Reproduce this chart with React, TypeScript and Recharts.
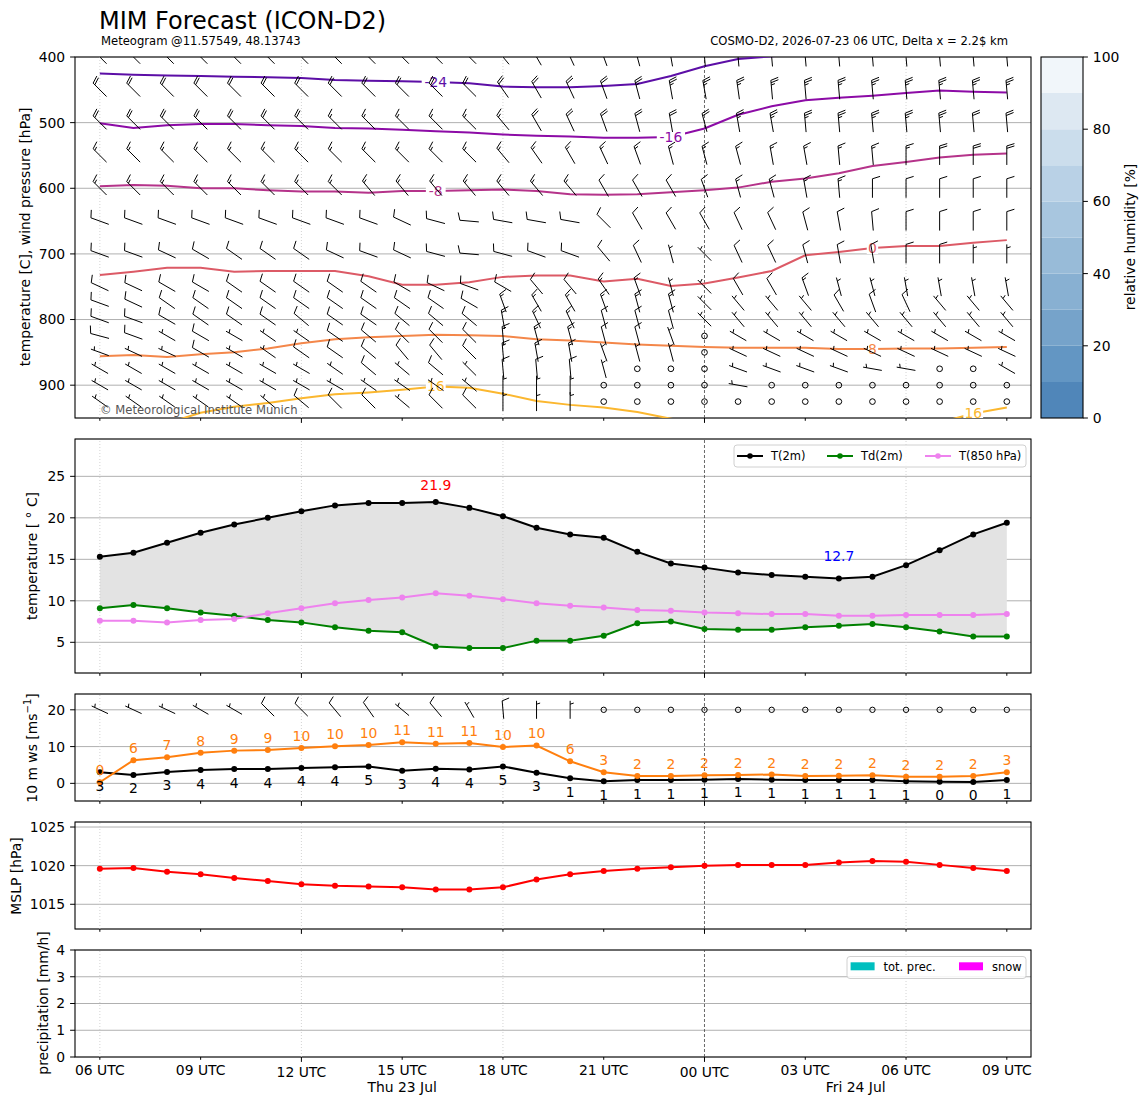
import React from 'react';
import {
  Bar,
  BarChart,
  CartesianGrid,
  ComposedChart,
  Area,
  Line,
  ReferenceArea,
  ReferenceLine,
  Scatter,
  XAxis,
  YAxis,
} from 'recharts';

const FONT = '"DejaVu Sans", sans-serif';

// forecast hours since Thu 23 Jul 06 UTC
const HOURS = [0, 1, 2, 3, 4, 5, 6, 7, 8, 9, 10, 11, 12, 13, 14, 15, 16, 17, 18, 19, 20, 21, 22, 23, 24, 25, 26, 27];
const TICK_HOURS = [0, 3, 6, 9, 12, 15, 18, 21, 24, 27];
const TICK_LABELS = ['06 UTC', '09 UTC', '12 UTC', '15 UTC', '18 UTC', '21 UTC', '00 UTC', '03 UTC', '06 UTC', '09 UTC'];
const DAY_LABELS = [
  { hour: 9, text: 'Thu 23 Jul' },
  { hour: 22.5, text: 'Fri 24 Jul' },
];
const X_DOMAIN: [number, number] = [-0.74, 27.72];

// isotherms: pressure (hPa) where the contour sits at each hour
const ISO_M24 = [425, 427, 428, 429, 430, 431, 432, 435, 436, 437, 438, 440, 445, 446, 446, 444, 441, 429, 414, 403, 399, 394, 390, 387, 385, 384, 384, 385];
const ISO_M16 = [501, 508, 504, 502, 502, 504, 505, 508, 509, 511, 513, 515, 518, 520, 521, 523, 523, 522, 509, 488, 475, 466, 462, 459, 455, 451, 453, 454];
const ISO_M8 = [597, 595, 596, 600, 600, 603, 605, 605, 607, 604, 604, 603, 602, 604, 609, 610, 609, 606, 603, 599, 590, 585, 577, 566, 560, 553, 549, 547];
const ISO_0 = [732, 727, 721, 721, 727, 726, 726, 726, 734, 747, 747, 743, 735, 733, 733, 742, 738, 749, 745, 736, 726, 702, 697, 691, 688, 688, 683, 679];
const ISO_8 = [856, 854, 857, 853, 850, 844, 836, 830, 827, 825, 823, 824, 825, 830, 832, 835, 838, 840, 842, 843, 843, 843, 845, 845, 844, 844, 843, 842];
const ISO_16 = [962, 957, 958, 942, 933, 927, 920, 914, 911, 907, 902, 904, 913, 924, 930, 934, 941, 951, 960, 965, 968, 970, 970, 968, 965, 957, 943, 934];

const ISOTHERMS = [
  { key: 'm24', values: ISO_M24, text: '-24', color: '#5c0ea6', labelAt: [10] },
  { key: 'm16', values: ISO_M16, text: '-16', color: '#8c0ba6', labelAt: [17] },
  { key: 'm8', values: ISO_M8, text: '-8', color: '#b5338a', labelAt: [10] },
  { key: 'z0', values: ISO_0, text: '0', color: '#dc5a66', labelAt: [23] },
  { key: 'p8', values: ISO_8, text: '8', color: '#f4874a', labelAt: [23] },
  { key: 'p16', values: ISO_16, text: '16', color: '#fbb72f', labelAt: [10, 26] },
];

// wind barbs on pressure levels: direction (deg, from) and speed (kn)
const DIR_400 = [315, 315, 315, 315, 315, 315, 315, 315, 315, 315, 315, 315, 320, 330, 335, 340, 345, 350, 355, 355, 355, 355, 355, 355, 355, 355, 355, 355];
const SPD_400 = [25, 25, 25, 25, 25, 25, 25, 25, 25, 25, 25, 25, 25, 25, 25, 25, 25, 25, 25, 25, 25, 25, 25, 25, 25, 25, 25, 25];
const DIR_450 = [315, 315, 315, 315, 315, 315, 315, 315, 315, 315, 315, 315, 325, 330, 335, 340, 345, 350, 350, 352, 355, 355, 355, 355, 355, 355, 355, 355];
const SPD_450 = [20, 20, 20, 20, 20, 20, 20, 20, 20, 20, 20, 20, 20, 20, 20, 20, 25, 25, 25, 25, 25, 25, 25, 25, 25, 25, 25, 25];
const DIR_500 = [315, 315, 315, 315, 315, 315, 315, 315, 315, 315, 315, 315, 320, 330, 335, 340, 345, 350, 345, 350, 350, 355, 355, 355, 355, 355, 355, 355];
const SPD_500 = [20, 20, 20, 20, 20, 20, 20, 15, 15, 15, 15, 15, 15, 20, 20, 20, 20, 20, 20, 25, 25, 25, 25, 25, 25, 25, 20, 20];
const DIR_550 = [315, 315, 315, 315, 315, 315, 315, 315, 315, 315, 315, 315, 320, 325, 330, 335, 340, 345, 345, 345, 350, 350, 355, 355, 360, 360, 360, 360];
const SPD_550 = [15, 15, 15, 15, 15, 15, 15, 15, 15, 15, 15, 15, 15, 15, 15, 15, 15, 15, 15, 15, 15, 15, 15, 15, 15, 20, 20, 20];
const DIR_600 = [315, 315, 315, 315, 315, 315, 315, 315, 320, 320, 320, 320, 320, 320, 320, 330, 330, 330, 340, 345, 345, 350, 355, 360, 360, 360, 360, 360];
const SPD_600 = [15, 15, 15, 15, 15, 15, 15, 15, 15, 15, 15, 15, 15, 15, 15, 10, 10, 10, 10, 15, 15, 15, 15, 10, 10, 10, 10, 10];
const DIR_650 = [290, 290, 290, 290, 290, 290, 290, 290, 290, 295, 285, 275, 280, 280, 280, 315, 330, 330, 330, 335, 335, 345, 350, 355, 360, 360, 360, 360];
const SPD_650 = [10, 10, 10, 10, 10, 10, 10, 10, 10, 10, 10, 10, 10, 10, 10, 10, 10, 10, 10, 10, 10, 10, 10, 10, 10, 10, 10, 10];
const DIR_700 = [290, 290, 295, 300, 305, 305, 305, 295, 290, 295, 285, 275, 285, 290, 290, 320, 335, 345, 315, 335, 335, 345, 350, 350, 360, 360, 360, 360];
const SPD_700 = [10, 10, 10, 10, 10, 10, 10, 10, 10, 10, 10, 10, 10, 10, 10, 10, 10, 5, 5, 10, 10, 10, 10, 10, 10, 10, 5, 5];
const DIR_750 = [295, 295, 300, 300, 305, 305, 305, 305, 305, 300, 295, 290, 300, 320, 320, 325, 340, 345, 315, 330, 330, 340, 345, 345, 350, 350, 350, 350];
const SPD_750 = [10, 10, 10, 10, 10, 10, 10, 10, 10, 10, 10, 10, 10, 10, 10, 15, 15, 5, 5, 10, 10, 15, 5, 5, 5, 5, 5, 5];
const DIR_775 = [290, 295, 305, 305, 305, 305, 305, 305, 305, 305, 305, 300, 340, 330, 330, 340, 345, 345, 315, 320, 320, 320, 330, 340, 335, 320, 320, 320];
const SPD_775 = [10, 10, 10, 10, 10, 10, 10, 10, 10, 10, 10, 10, 15, 15, 15, 15, 15, 15, 5, 5, 5, 5, 10, 10, 10, 5, 5, 5];
const DIR_800 = [290, 290, 300, 305, 305, 305, 310, 305, 305, 310, 310, 310, 350, 335, 335, 345, 345, 345, 315, 320, 320, 320, 320, 320, 320, 320, 320, 320];
const SPD_800 = [10, 10, 10, 10, 10, 10, 10, 10, 10, 10, 10, 10, 15, 15, 15, 10, 10, 10, 5, 5, 5, 5, 5, 5, 5, 5, 5, 5];
const DIR_825 = [285, 290, 300, 300, 300, 305, 305, 305, 310, 315, 315, 315, 355, 345, 345, 345, 345, 340, 0, 300, 300, 300, 300, 300, 300, 300, 300, 300];
const SPD_825 = [10, 10, 5, 10, 5, 5, 5, 10, 10, 10, 10, 10, 15, 15, 15, 10, 10, 5, 0, 5, 5, 5, 5, 5, 5, 5, 5, 5];
const DIR_850 = [290, 295, 295, 300, 300, 305, 305, 305, 310, 320, 320, 315, 355, 350, 350, 340, 345, 345, 0, 295, 295, 295, 295, 295, 295, 295, 295, 295];
const SPD_850 = [5, 5, 5, 10, 5, 5, 10, 10, 10, 10, 10, 10, 15, 15, 15, 5, 5, 5, 0, 5, 5, 5, 5, 5, 5, 5, 5, 5];
const DIR_875 = [300, 300, 300, 300, 300, 300, 300, 305, 310, 310, 310, 315, 355, 355, 355, 345, 0, 0, 0, 290, 290, 290, 290, 280, 280, 0, 0, 300];
const SPD_875 = [5, 5, 5, 5, 5, 5, 5, 5, 10, 5, 10, 5, 10, 10, 10, 5, 0, 0, 0, 5, 5, 5, 5, 5, 5, 0, 0, 5];
const DIR_900 = [300, 300, 300, 300, 300, 300, 300, 300, 305, 305, 305, 310, 360, 360, 360, 0, 0, 0, 0, 280, 0, 0, 0, 0, 0, 0, 0, 0];
const SPD_900 = [5, 5, 5, 5, 5, 5, 5, 5, 5, 5, 5, 5, 5, 5, 5, 0, 0, 0, 0, 5, 0, 0, 0, 0, 0, 0, 0, 0];
const DIR_925 = [305, 305, 305, 305, 305, 310, 310, 315, 315, 310, 315, 315, 360, 360, 360, 0, 0, 0, 0, 0, 0, 0, 0, 0, 0, 0, 0, 0];
const SPD_925 = [5, 5, 5, 5, 5, 5, 10, 10, 10, 5, 10, 10, 5, 5, 5, 0, 0, 0, 0, 0, 0, 0, 0, 0, 0, 0, 0, 0];

const BARB_LEVELS = [
  { p: 400, dir: DIR_400, spd: SPD_400 },
  { p: 450, dir: DIR_450, spd: SPD_450 },
  { p: 500, dir: DIR_500, spd: SPD_500 },
  { p: 550, dir: DIR_550, spd: SPD_550 },
  { p: 600, dir: DIR_600, spd: SPD_600 },
  { p: 650, dir: DIR_650, spd: SPD_650 },
  { p: 700, dir: DIR_700, spd: SPD_700 },
  { p: 750, dir: DIR_750, spd: SPD_750 },
  { p: 775, dir: DIR_775, spd: SPD_775 },
  { p: 800, dir: DIR_800, spd: SPD_800 },
  { p: 825, dir: DIR_825, spd: SPD_825 },
  { p: 850, dir: DIR_850, spd: SPD_850 },
  { p: 875, dir: DIR_875, spd: SPD_875 },
  { p: 900, dir: DIR_900, spd: SPD_900 },
  { p: 925, dir: DIR_925, spd: SPD_925 },
];

// 2 m temperatures (°C)
const T2M = [15.3, 15.8, 17.0, 18.2, 19.2, 20.0, 20.8, 21.5, 21.8, 21.8, 21.9, 21.2, 20.2, 18.8, 18.0, 17.6, 15.9, 14.5, 14.0, 13.4, 13.1, 12.9, 12.7, 12.9, 14.3, 16.1, 18.0, 19.4];
const TD2M = [9.1, 9.5, 9.1, 8.6, 8.2, 7.7, 7.4, 6.8, 6.4, 6.2, 4.5, 4.3, 4.3, 5.2, 5.2, 5.8, 7.3, 7.5, 6.6, 6.5, 6.5, 6.8, 7.0, 7.2, 6.8, 6.3, 5.7, 5.7];
const T850 = [7.6, 7.6, 7.4, 7.7, 7.8, 8.5, 9.1, 9.7, 10.1, 10.4, 10.9, 10.6, 10.2, 9.7, 9.4, 9.2, 8.9, 8.8, 8.6, 8.5, 8.4, 8.4, 8.2, 8.2, 8.3, 8.3, 8.3, 8.4];

// 10 m wind (m/s), gusts (m/s), barb direction and speed (kn)
const WS10 = [3.0, 2.3, 3.1, 3.6, 3.9, 3.9, 4.2, 4.4, 4.6, 3.4, 4.0, 3.8, 4.6, 2.9, 1.4, 0.6, 0.9, 0.9, 1.0, 1.2, 1.0, 0.9, 0.9, 0.9, 0.6, 0.45, 0.4, 0.9];
const GUST10 = [0.3, 6.3, 7.1, 8.3, 8.9, 9.1, 9.6, 10.1, 10.4, 11.2, 10.8, 11.0, 9.9, 10.3, 6.0, 3.0, 2.0, 2.0, 2.2, 2.3, 2.4, 2.0, 2.1, 2.2, 1.8, 1.8, 2.0, 3.0];
const DIR10 = [295, 295, 295, 300, 300, 315, 315, 320, 325, 310, 320, 330, 355, 360, 360, 0, 0, 0, 0, 0, 0, 0, 0, 0, 0, 0, 0, 0];
const SPD10 = [5, 5, 5, 5, 5, 10, 10, 10, 10, 5, 10, 5, 10, 5, 5, 0, 0, 0, 0, 0, 0, 0, 0, 0, 0, 0, 0, 0];

// mean sea level pressure (hPa)
const MSLP = [1019.6, 1019.7, 1019.2, 1018.9, 1018.4, 1018.0, 1017.6, 1017.4, 1017.3, 1017.2, 1016.9, 1016.9, 1017.2, 1018.2, 1018.9, 1019.3, 1019.6, 1019.8, 1020.0, 1020.1, 1020.1, 1020.1, 1020.4, 1020.6, 1020.5, 1020.1, 1019.7, 1019.3];

// precipitation (mm/h)
const TOT_PREC = [0, 0, 0, 0, 0, 0, 0, 0, 0, 0, 0, 0, 0, 0, 0, 0, 0, 0, 0, 0, 0, 0, 0, 0, 0, 0, 0, 0];
const SNOW = [0, 0, 0, 0, 0, 0, 0, 0, 0, 0, 0, 0, 0, 0, 0, 0, 0, 0, 0, 0, 0, 0, 0, 0, 0, 0, 0, 0];

// relative humidity colour bar
const RH_LEVELS = [0, 10, 20, 30, 40, 50, 60, 70, 80, 90];
const RH_COLORS = ['#5086b9', '#6396c3', '#76a3ca', '#88b0d2', '#98bbd8', '#a8c6df', '#b9d1e6', '#cbddec', '#dde8f2', '#f1f6fa'];

// ---- derived tables ----
const ISO_ROWS = HOURS.map((t, i) => {
  const row: Record<string, number> = { t };
  ISOTHERMS.forEach((iso) => {
    row[iso.key] = iso.values[i];
  });
  return row;
});
const ISO_LABELS = ISOTHERMS.flatMap((iso) =>
  iso.labelAt.map((i) => ({ t: HOURS[i], p: iso.values[i], text: iso.text, color: iso.color })),
);
const BARBS = BARB_LEVELS.flatMap((l) => HOURS.map((t, i) => ({ t, p: l.p, dir: l.dir[i], spd: l.spd[i] })));

const TEMP_ROWS = HOURS.map((t, i) => ({ t, t2m: T2M[i], td: TD2M[i], t850: T850[i], range: [TD2M[i], T2M[i]] }));
const iMax = T2M.indexOf(Math.max(...T2M));
const iMin = T2M.indexOf(Math.min(...T2M));
const TEMP_EXTREMES = [
  { t: HOURS[iMax], v: T2M[iMax], text: T2M[iMax].toFixed(1), color: '#ff0000', dy: -12 },
  { t: HOURS[iMin], v: T2M[iMin], text: T2M[iMin].toFixed(1), color: '#0000ff', dy: -17 },
];

const WIND_ROWS = HOURS.map((t, i) => ({ t, ws: WS10[i], gust: GUST10[i] }));
const WS_LABELS = HOURS.map((t, i) => ({ t, v: WS10[i], text: String(Math.round(WS10[i])), color: '#000', dy: 18.5 }));
const GUST_LABELS = HOURS.map((t, i) => ({ t, v: GUST10[i], text: String(Math.round(GUST10[i])), color: '#ff7f0e', dy: -7 }));
const BARBS10 = HOURS.map((t, i) => ({ t, y: 20, dir: DIR10[i], spd: SPD10[i] }));

const MSLP_ROWS = HOURS.map((t, i) => ({ t, mslp: MSLP[i] }));
const PREC_ROWS = HOURS.map((t, i) => ({ t, tot: TOT_PREC[i], snow: SNOW[i] }));
const RH_ROW = [Object.fromEntries([['n', 'rh'], ...RH_LEVELS.map((l, i) => [`b${i}`, (RH_LEVELS[i + 1] ?? 100) - l])])];

// ---- geometry ----
const W = 1148;
const PLOT_L = 75;
const PLOT_R = 1031;
const PAD_TOP = 10;
const X_AXIS_H = 30;
const MARGIN = { top: PAD_TOP, right: W - PLOT_R, bottom: 0, left: 15 };
const PANELS = {
  air: [57, 418],
  temp: [439, 673],
  wind: [694, 801],
  mslp: [822, 929],
  prec: [950, 1057],
};
const xOf = (h: number) => PLOT_L + ((h - X_DOMAIN[0]) / (X_DOMAIN[1] - X_DOMAIN[0])) * (PLOT_R - PLOT_L);

// ---- shapes ----
function drawBarb(L: number) {
  return (props: any) => {
    const { cx, cy, payload } = props;
    const mag = 5 * Math.floor(payload.spd / 5 + 0.5);
    if (mag === 0) {
      return <circle cx={cx} cy={cy} r={0.15 * L} fill="none" stroke="#000" strokeWidth={1} />;
    }
    const th = (payload.dir * Math.PI) / 180;
    const dx = Math.sin(th);
    const dy = -Math.cos(th);
    const rx = -dy;
    const ry = dx;
    const bx = cx - (dx * L) / 2;
    const by = cy - (dy * L) / 2;
    const P = (a: number, s: number) => `${(bx + dx * a + rx * s).toFixed(2)},${(by + dy * a + ry * s).toFixed(2)}`;
    const h = 0.4 * L;
    const w = 0.25 * L;
    const sp = 0.125 * L;
    const nflag = Math.floor(mag / 50);
    const nbarb = Math.floor((mag % 50) / 10);
    const half = mag % 10 >= 5;
    let d = `M${P(0, 0)} L${P(L, 0)}`;
    let off = L;
    for (let k = 0; k < nflag; k++) {
      if (off !== L) off += sp / 2;
      d += ` M${P(off, 0)} L${P(off - w / 2, h)} L${P(off - w, 0)} Z`;
      off -= w + sp;
    }
    for (let k = 0; k < nbarb; k++) {
      d += ` M${P(off, 0)} L${P(off + w / 2, h)}`;
      off -= sp;
    }
    if (half) {
      if (off === L) off -= 1.5 * sp;
      d += ` M${P(off, 0)} L${P(off + w / 4, h / 2)}`;
    }
    return <path d={d} fill={nflag ? '#000' : 'none'} stroke="#000" strokeWidth={1} />;
  };
}

const isoLabel = (props: any) => {
  const { cx, cy, payload } = props;
  const w = payload.text.length * 8.4 + 3;
  return (
    <g>
      <rect x={cx - w / 2} y={cy - 6} width={w} height={12} fill="#fff" />
      <text x={cx} y={cy + 5} textAnchor="middle" fontSize={13.9} fontFamily={FONT} fill={payload.color}>
        {payload.text}
      </text>
    </g>
  );
};

const valueLabel = (props: any) => {
  const { cx, cy, payload } = props;
  return (
    <text x={cx} y={cy + payload.dy} textAnchor="middle" fontSize={13.9} fontFamily={FONT} fill={payload.color}>
      {payload.text}
    </text>
  );
};

function xTick(withLabels: boolean) {
  return (props: any) => {
    const { x, y, payload } = props;
    const v = payload.value;
    const major = v % 12 === 6;
    const len = major ? 4.9 : 2.8;
    const idx = TICK_HOURS.indexOf(v);
    return (
      <g>
        <line x1={x} x2={x} y1={y} y2={y + len} stroke="#000" strokeWidth={1} />
        {withLabels && (
          <text x={x} y={y + len + 15} textAnchor="middle" fontSize={13.9} fontFamily={FONT} fill="#000">
            {TICK_LABELS[idx]}
          </text>
        )}
      </g>
    );
  };
}

const yTick = { fontSize: 13.9, fill: '#000', fontFamily: FONT };

function xAxis(withLabels = false) {
  return (
    <XAxis
      key="x"
      dataKey="t"
      type="number"
      domain={X_DOMAIN}
      ticks={TICK_HOURS}
      interval={0}
      allowDataOverflow
      tickSize={0}
      tickMargin={0}
      tickLine={false}
      axisLine={false}
      height={X_AXIS_H}
      tick={xTick(withLabels)}
    />
  );
}

function yAxis(domain: [number, number], ticks: number[], reversed = false) {
  return (
    <YAxis
      key="y"
      type="number"
      domain={domain}
      ticks={ticks}
      interval={0}
      reversed={reversed}
      allowDataOverflow
      width={60}
      tickSize={4.9}
      tickMargin={4.9}
      axisLine={false}
      tickLine={{ stroke: '#000', strokeWidth: 1 }}
      tick={yTick}
    />
  );
}

function timeLines() {
  return [
    ...[0, 6, 12, 24].map((h) => (
      <ReferenceLine key={`v${h}`} x={h} stroke="#c8c8c8" strokeWidth={0.8} strokeDasharray="1 2" />
    )),
    <ReferenceLine key="v18" x={18} stroke="#444" strokeWidth={0.8} strokeDasharray="3 2" />,
  ];
}

function frame(y1: number, y2: number) {
  return (
    <ReferenceArea
      key="frame"
      x1={X_DOMAIN[0]}
      x2={X_DOMAIN[1]}
      y1={y1}
      y2={y2}
      fill="none"
      fillOpacity={0}
      stroke="#000"
      strokeWidth={1.1}
      ifOverflow="visible"
    />
  );
}

function boxStyle(panel: number[]): React.CSSProperties {
  return { position: 'absolute', left: 0, top: panel[0] - PAD_TOP };
}
const chartH = (panel: number[]) => panel[1] - panel[0] + PAD_TOP + X_AXIS_H;

function Overlay() {
  const txt = { fontFamily: FONT, fill: '#000' };
  const vLabel = (x: number, y: number, content: React.ReactNode) => (
    <text x={x} y={y} transform={`rotate(-90 ${x} ${y})`} textAnchor="middle" dominantBaseline="central" fontSize={13.9} {...txt}>
      {content}
    </text>
  );
  return (
    <svg width={W} height={1105} style={{ position: 'absolute', left: 0, top: 0, pointerEvents: 'none' }}>
      <text x={99} y={29} fontSize={24} {...txt}>MIM Forecast (ICON-D2)</text>
      <text x={101} y={45} fontSize={11.6} {...txt}>Meteogram @11.57549, 48.13743</text>
      <text x={1008} y={45} fontSize={11.6} textAnchor="end" {...txt}>COSMO-D2, 2026-07-23 06 UTC, Delta x = 2.2$ km</text>
      <text x={100} y={414} fontSize={11.6} fontFamily={FONT} fill="#555">© Meteorological Institute Munich</text>

      {vLabel(25, 237, 'temperature [C], wind pressure [hPa]')}
      {vLabel(32, 556, 'temperature [ ° C]')}
      {vLabel(32, 748, (
        <>
          10 m ws [ms
          <tspan dy={-5} fontSize={10}>−1</tspan>
          <tspan dy={5}>]</tspan>
        </>
      ))}
      {vLabel(16, 876, 'MSLP [hPa]')}
      {vLabel(43, 1003, 'precipitation [mm/h]')}
      {vLabel(1130, 237, 'relative humidity [%]')}

      <rect x={1041} y={57} width={42} height={361} fill="none" stroke="#000" strokeWidth={1.1} />

      {DAY_LABELS.map((d) => (
        <text key={d.text} x={xOf(d.hour)} y={1092} textAnchor="middle" fontSize={13.9} {...txt}>
          {d.text}
        </text>
      ))}

      <g>
        <rect x={734} y={445} width={292} height={22} rx={3} fill="#fff" fillOpacity={0.85} stroke="#d0d0d0" />
        {[
          { x: 737, color: '#000', text: 'T(2m)' },
          { x: 827, color: '#008000', text: 'Td(2m)' },
          { x: 925, color: '#ee82ee', text: 'T(850 hPa)' },
        ].map((it) => (
          <g key={it.text}>
            <line x1={it.x} x2={it.x + 26} y1={456} y2={456} stroke={it.color} strokeWidth={2} />
            <circle cx={it.x + 13} cy={456} r={2.8} fill={it.color} />
            <text x={it.x + 34} y={460} fontSize={11.5} {...txt}>{it.text}</text>
          </g>
        ))}
      </g>

      <g>
        <rect x={847} y={956.5} width={179} height={22} rx={3} fill="#fff" fillOpacity={0.85} stroke="#d0d0d0" />
        <rect x={850.6} y={962.3} width={24} height={8} fill="#00bfbf" />
        <text x={883.5} y={970.5} fontSize={11.5} {...txt}>tot. prec.</text>
        <rect x={959} y={962.3} width={24} height={8} fill="#ff00ff" />
        <text x={992} y={970.5} fontSize={11.5} {...txt}>snow</text>
      </g>
    </svg>
  );
}

export default function App() {
  return (
    <div style={{ position: 'absolute', left: 0, top: 0, width: W, height: 1105, background: '#fff', fontFamily: FONT }}>
      {/* upper air: isotherms and wind barbs */}
      <div style={boxStyle(PANELS.air)}>
        <ComposedChart width={W} height={chartH(PANELS.air)} data={ISO_ROWS} margin={MARGIN}>
          <CartesianGrid vertical={false} stroke="#b0b0b0" strokeWidth={1} />
          {timeLines()}
          {xAxis()}
          {yAxis([400, 950], [400, 500, 600, 700, 800, 900], true)}
          {ISOTHERMS.map((iso) => (
            <Line key={iso.key} dataKey={iso.key} stroke={iso.color} strokeWidth={2} dot={false} isAnimationActive={false} />
          ))}
          <Scatter data={ISO_LABELS} dataKey="p" shape={isoLabel} isAnimationActive={false} />
          <Scatter data={BARBS} dataKey="p" shape={drawBarb(19)} isAnimationActive={false} />
          {frame(400, 950)}
        </ComposedChart>
      </div>

      {/* relative humidity colour bar */}
      <div style={{ position: 'absolute', left: 1041, top: PANELS.air[0] - PAD_TOP }}>
        <BarChart
          width={102}
          height={chartH(PANELS.air)}
          data={RH_ROW}
          margin={{ top: PAD_TOP, right: 0, bottom: X_AXIS_H, left: 0 }}
          barCategoryGap={0}
          barGap={0}
        >
          <XAxis dataKey="n" hide />
          <YAxis
            orientation="right"
            type="number"
            domain={[0, 100]}
            ticks={[0, 20, 40, 60, 80, 100]}
            interval={0}
            width={60}
            tickSize={4.9}
            tickMargin={4.9}
            axisLine={false}
            tickLine={{ stroke: '#000' }}
            tick={yTick}
          />
          {RH_LEVELS.map((l, i) => (
            <Bar key={l} dataKey={`b${i}`} stackId="rh" fill={RH_COLORS[i]} isAnimationActive={false} />
          ))}
        </BarChart>
      </div>

      {/* 2 m temperature */}
      <div style={boxStyle(PANELS.temp)}>
        <ComposedChart width={W} height={chartH(PANELS.temp)} data={TEMP_ROWS} margin={MARGIN}>
          <CartesianGrid vertical={false} stroke="#b0b0b0" strokeWidth={1} />
          {timeLines()}
          {xAxis()}
          {yAxis([1.3, 29.5], [5, 10, 15, 20, 25])}
          <Area dataKey="range" stroke="none" fill="#e3e3e3" fillOpacity={1} isAnimationActive={false} />
          <Line dataKey="t2m" stroke="#000" strokeWidth={2} dot={{ r: 3, fill: '#000', stroke: 'none' }} isAnimationActive={false} />
          <Line dataKey="td" stroke="#008000" strokeWidth={2} dot={{ r: 3, fill: '#008000', stroke: 'none' }} isAnimationActive={false} />
          <Line dataKey="t850" stroke="#ee82ee" strokeWidth={2} dot={{ r: 3, fill: '#ee82ee', stroke: 'none' }} isAnimationActive={false} />
          <Scatter data={TEMP_EXTREMES} dataKey="v" shape={valueLabel} isAnimationActive={false} />
          {frame(1.3, 29.5)}
        </ComposedChart>
      </div>

      {/* 10 m wind */}
      <div style={boxStyle(PANELS.wind)}>
        <ComposedChart width={W} height={chartH(PANELS.wind)} data={WIND_ROWS} margin={MARGIN}>
          <CartesianGrid vertical={false} stroke="#b0b0b0" strokeWidth={1} />
          {timeLines()}
          {xAxis()}
          {yAxis([-4.8, 24.3], [0, 10, 20])}
          <Line dataKey="ws" stroke="#000" strokeWidth={2} dot={{ r: 3, fill: '#000', stroke: 'none' }} isAnimationActive={false} />
          <Line dataKey="gust" stroke="#ff7f0e" strokeWidth={2} dot={{ r: 3, fill: '#ff7f0e', stroke: 'none' }} isAnimationActive={false} />
          <Scatter data={WS_LABELS} dataKey="v" shape={valueLabel} isAnimationActive={false} />
          <Scatter data={GUST_LABELS} dataKey="v" shape={valueLabel} isAnimationActive={false} />
          <Scatter data={BARBS10} dataKey="y" shape={drawBarb(18)} isAnimationActive={false} />
          {frame(-4.8, 24.3)}
        </ComposedChart>
      </div>

      {/* mean sea level pressure */}
      <div style={boxStyle(PANELS.mslp)}>
        <ComposedChart width={W} height={chartH(PANELS.mslp)} data={MSLP_ROWS} margin={MARGIN}>
          <CartesianGrid vertical={false} stroke="#b0b0b0" strokeWidth={1} />
          {timeLines()}
          {xAxis()}
          {yAxis([1011.8, 1025.65], [1015, 1020, 1025])}
          <Line dataKey="mslp" stroke="#ff0000" strokeWidth={2} dot={{ r: 3, fill: '#ff0000', stroke: 'none' }} isAnimationActive={false} />
          {frame(1011.8, 1025.65)}
        </ComposedChart>
      </div>

      {/* precipitation */}
      <div style={boxStyle(PANELS.prec)}>
        <ComposedChart width={W} height={chartH(PANELS.prec)} data={PREC_ROWS} margin={MARGIN}>
          <CartesianGrid vertical={false} stroke="#b0b0b0" strokeWidth={1} />
          {timeLines()}
          {xAxis(true)}
          {yAxis([0, 4], [0, 1, 2, 3, 4])}
          <Bar dataKey="tot" fill="#00bfbf" barSize={20} isAnimationActive={false} />
          <Bar dataKey="snow" fill="#ff00ff" barSize={20} isAnimationActive={false} />
          {frame(0, 4)}
        </ComposedChart>
      </div>

      <Overlay />
    </div>
  );
}
